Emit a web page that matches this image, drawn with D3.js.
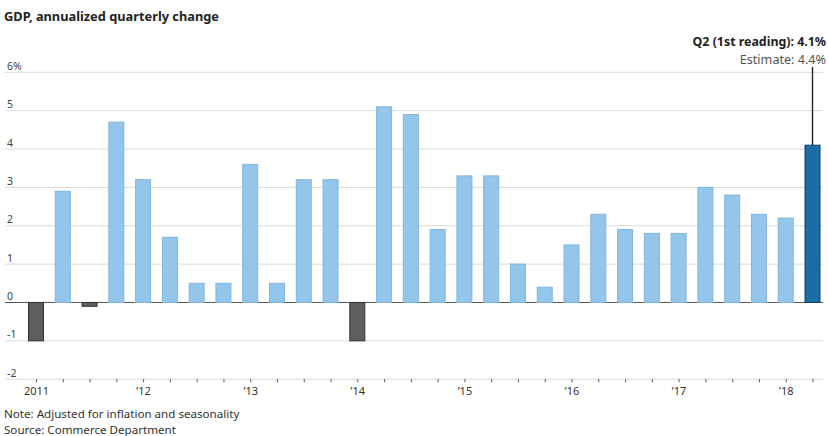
<!DOCTYPE html>
<html><head><meta charset="utf-8">
<script src="https://cdn.jsdelivr.net/npm/d3@7"></script>
<style>
body{margin:0;background:#fff;}
svg text{font-family:"Noto Sans",sans-serif;}
</style></head>
<body><svg id="c" width="828" height="436"></svg>
<script>
const quarters = ["2011Q1","2011Q2","2011Q3","2011Q4","2012Q1","2012Q2","2012Q3","2012Q4","2013Q1","2013Q2","2013Q3","2013Q4","2014Q1","2014Q2","2014Q3","2014Q4","2015Q1","2015Q2","2015Q3","2015Q4","2016Q1","2016Q2","2016Q3","2016Q4","2017Q1","2017Q2","2017Q3","2017Q4","2018Q1","2018Q2"];
const values = [-1.0,2.9,-0.1,4.7,3.2,1.7,0.5,0.5,3.6,0.5,3.2,3.2,-1.0,5.1,4.9,1.9,3.3,3.3,1.0,0.4,1.5,2.3,1.9,1.8,1.8,3.0,2.8,2.3,2.2,4.1];
const yTicks = [-2,-1,0,1,2,3,4,5,6];
const yearLabels = {"2011Q1":"2011","2012Q1":"\u201912","2013Q1":"\u201913","2014Q1":"\u201914","2015Q1":"\u201915","2016Q1":"\u201916","2017Q1":"\u201917","2018Q1":"\u201918"};
const title = "GDP, annualized quarterly change";
const annot1 = "Q2 (1st reading): 4.1%";
const annot2 = "Estimate: 4.4%";
const notes = ["Note: Adjusted for inflation and seasonality","Source: Commerce Department"];

const svg = d3.select("#c");
const x = d3.scalePoint().domain(quarters).range([36, 812.5]);
const y = d3.scaleLinear().domain([-2, 6]).range([379.2, 72.3]);
const barW = 15;

// gridlines + y labels
svg.append("g").selectAll("line").data(yTicks).join("line")
  .attr("x1", 5).attr("x2", 823)
  .attr("y1", d => y(d)).attr("y2", d => y(d))
  .attr("stroke", d => d === 0 ? "#555" : "#d9d9d9")
  .attr("stroke-width", 1);
svg.append("g").selectAll("text").data(yTicks).join("text")
  .attr("x", 7).attr("y", d => y(d) - 2.5)
  .attr("font-size", 10.5).attr("fill", "#444")
  .text(d => d === 6 ? "6%" : d);

// bars
const last = quarters.length - 1;
svg.append("g").selectAll("rect").data(values).join("rect")
  .attr("x", (d, i) => x(quarters[i]) - barW / 2)
  .attr("width", barW)
  .attr("y", d => y(Math.max(0, d)))
  .attr("height", d => Math.abs(y(d) - y(0)))
  .attr("fill", (d, i) => i === last ? "#1a6da6" : d < 0 ? "#5e5e5e" : "#94c6eb")
  .attr("stroke", (d, i) => i === last ? "#0f3f63" : d < 0 ? "#333" : "#82b6dd")
  .attr("stroke-width", 1);

// x axis
const xAxis = d3.axisBottom(x).tickSize(3).tickFormat(d => yearLabels[d] || "");
const gx = svg.append("g").attr("transform", `translate(0,${y(-2)})`).call(xAxis);
gx.select(".domain").remove();
gx.selectAll(".tick line").attr("stroke", "#555");
gx.selectAll(".tick text").attr("font-size", 11).attr("fill", "#333").attr("dy", "0.85em")
  .attr("font-family", "Noto Sans, sans-serif");

// annotation
const lx = x(quarters[last]);
svg.append("line").attr("x1", lx).attr("x2", lx).attr("y1", 67).attr("y2", y(values[last]))
  .attr("stroke", "#222").attr("stroke-width", 1.4);
svg.append("text").attr("x", 826).attr("y", 46).attr("text-anchor", "end")
  .attr("font-size", 12.4).attr("font-weight", "bold").attr("fill", "#222").text(annot1);
svg.append("text").attr("x", 826).attr("y", 63.5).attr("text-anchor", "end")
  .attr("font-size", 12.6).attr("fill", "#555").text(annot2);

// title
svg.append("text").attr("x", 4).attr("y", 21).attr("font-size", 12.8).attr("font-weight", "bold")
  .attr("fill", "#222").text(title);

// notes
svg.selectAll(".note").data(notes).join("text").attr("class", "note")
  .attr("x", 4).attr("y", (d, i) => 418 + i * 16)
  .attr("font-size", 11.6).attr("fill", "#333").text(d => d);
</script></body></html>
